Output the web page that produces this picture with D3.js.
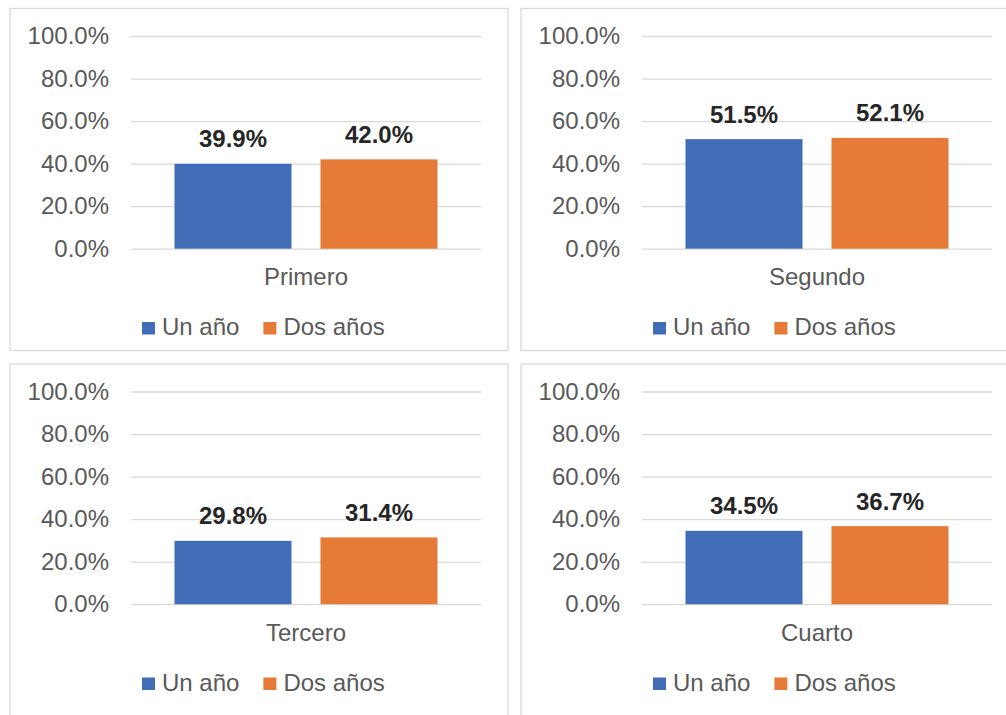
<!DOCTYPE html>
<html>
<head>
<meta charset="utf-8">
<script src="https://cdn.jsdelivr.net/npm/d3@7"></script>
<style>
  body { margin: 0; background: #fff; overflow: hidden; }
  svg { display: block; font-family: "Liberation Sans", Arial, sans-serif; }
</style>
</head>
<body>
<div id="chart"></div>
<script>
// data
var categories = ["Primero", "Segundo", "Tercero", "Cuarto"];
var series = ["Un año", "Dos años"];
var unAno   = [0.399, 0.515, 0.298, 0.345];
var dosAnos = [0.420, 0.521, 0.314, 0.367];
var yTicks  = [0, 0.2, 0.4, 0.6, 0.8, 1.0];
var colors  = ["#416DB6", "#E57B37"];

var W = 1006, H = 715;
var panelW = 498, panelH = 342;
var panelX = [10, 521], panelY = [8.5, 364];
var plot = {left: 121, right: 471, top: 27.5, bottom: 240.2};

var svg = d3.select("#chart").append("svg")
    .attr("width", W)
    .attr("height", H);

var fmt = d3.format(".1%");

var y = d3.scaleLinear().domain([0, 1]).range([plot.bottom, plot.top]);
var x1 = d3.scaleBand().domain(series).range([0, 263]).paddingInner(0.1986).paddingOuter(0);

categories.forEach(function(cat, i) {
    var px = panelX[i % 2], py = panelY[Math.floor(i / 2)];
    var h = i < 2 ? panelH : 380;
    var g = svg.append("g").attr("transform", "translate(" + px + "," + py + ")");

    g.append("rect")
        .attr("width", panelW).attr("height", h)
        .style("fill", "#fff")
        .style("stroke", "#D9D9D9")
        .style("stroke-width", 1.3);

    var x0 = d3.scaleBand().domain([cat]).range([plot.left, plot.right])
        .paddingInner(0).paddingOuter(0.1654);

    // y axis with gridlines
    var ax = g.append("g").attr("transform", "translate(" + plot.left + ",0)")
        .call(d3.axisLeft(y).tickValues(yTicks).tickFormat(fmt)
            .tickSize(-(plot.right - plot.left)).tickPadding(22));
    ax.select(".domain").remove();
    ax.selectAll("line").style("stroke", "#D9D9D9").style("stroke-width", 1.3);
    ax.selectAll("text")
        .style("font-size", "24px")
        .style("fill", "#595959")
        .style("font-family", "'Liberation Sans', Arial, sans-serif");

    var vals = [unAno[i], dosAnos[i]];
    var bars = g.selectAll(".bar").data(series.map(function(s, k) { return {s: s, v: vals[k], k: k}; }))
        .enter();

    bars.append("rect")
        .attr("class", "bar")
        .attr("x", function(d) { return x0(cat) + x1(d.s); })
        .attr("width", x1.bandwidth())
        .attr("y", function(d) { return y(d.v); })
        .attr("height", function(d) { return y(0) - y(d.v); })
        .style("fill", function(d) { return colors[d.k]; });

    bars.append("text")
        .attr("x", function(d) { return x0(cat) + x1(d.s) + x1.bandwidth() / 2; })
        .attr("y", function(d) { return y(d.v) - 16.5; })
        .attr("text-anchor", "middle")
        .style("font-size", "24px")
        .style("font-weight", "bold")
        .style("fill", "#262626")
        .text(function(d) { return fmt(d.v); });

    // category label
    g.append("text")
        .attr("x", x0(cat) + x0.bandwidth() / 2)
        .attr("y", 276.5)
        .attr("text-anchor", "middle")
        .style("font-size", "24px")
        .style("fill", "#595959")
        .text(cat);

    // legend
    var lg = g.append("g").attr("transform", "translate(132,0)");
    var lx = 0;
    series.forEach(function(s, k) {
        lg.append("rect")
            .attr("x", lx).attr("y", 313.5)
            .attr("width", 13).attr("height", 12.5)
            .style("fill", colors[k]);
        var t = lg.append("text")
            .attr("x", lx + 20).attr("y", 326.5)
            .style("font-size", "24px")
            .style("fill", "#595959")
            .text(s);
        lx += 20 + t.node().getComputedTextLength() + 24;
    });
});
</script>
</body>
</html>
